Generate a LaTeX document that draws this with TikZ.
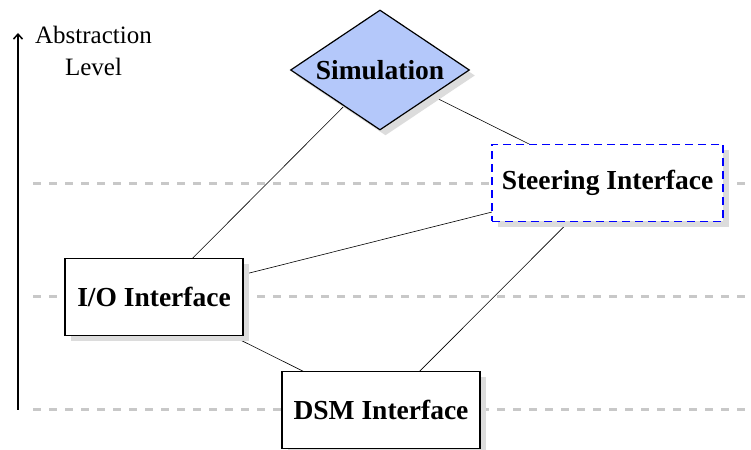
\documentclass[tikz,border=0pt]{standalone}
\usepackage{fontspec}
\setmainfont{Liberation Serif}
\usetikzlibrary{shapes.geometric,shadows,backgrounds,arrows.meta}
\definecolor{simblue}{RGB}{180,200,250}
\definecolor{levelgray}{RGB}{200,200,200}
\definecolor{shadowgray}{RGB}{220,220,220}
\tikzset{
  x=1pt,y=1pt,
  myshadow/.style={drop shadow={shadow xshift=5.5pt,shadow yshift=-5.5pt,fill=shadowgray,opacity=1}},
  boxnode/.style={draw,line width=1.2pt,fill=white,minimum height=77pt,inner sep=0pt,
    font=\fontsize{27.5}{30}\selectfont\bfseries,myshadow},
  levelline/.style={levelgray,line width=3pt,dash pattern=on 8pt off 8pt},
  conn/.style={black,line width=0.6pt},
}
\begin{document}
\begin{tikzpicture}
\useasboundingbox (0,0) rectangle (751,449);
% nodes
\node[diamond,draw,line width=1.2pt,fill=simblue,minimum width=179pt,minimum height=120pt,
      inner sep=0pt,myshadow,
      label={[font=\fontsize{27.5}{30}\selectfont\bfseries]center:Simulation}] (sim) at (380,379) {};
\node[boxnode,draw=blue,line width=1.5pt,dash pattern=on 8pt off 5pt,minimum width=231pt] (steer) at (607.5,266) {Steering Interface};
\node[boxnode,minimum width=178pt] (io) at (154,152) {I/O Interface};
\node[boxnode,minimum width=198pt] (dsm) at (381,39) {DSM Interface};
\node[align=center,font=\fontsize{25}{32}\selectfont,inner sep=0pt] (lbl) at (93.5,398) {Abstraction\\Level};
% level lines and arrow
\coordinate (l1s) at (33,265); \coordinate (l1e) at (751,265);
\coordinate (l2s) at (33,152); \coordinate (l2e) at (751,152);
\coordinate (l3s) at (33,39);  \coordinate (l3e) at (751,39);
\coordinate (abot) at (18,39); \coordinate (atop) at (18,416);
\begin{scope}[on background layer]
  \draw[levelline] (l1s) -- (l1e);
  \draw[levelline] (l2s) -- (l2e);
  \draw[levelline] (l3s) -- (l3e);
  \draw[conn] (sim.center) -- (io.center);
  \draw[conn] (sim.center) -- (steer.center);
  \draw[conn] (io.center) -- (steer.center);
  \draw[conn] (io.center) -- (dsm.center);
  \draw[conn] (steer.center) -- (dsm.center);
\end{scope}
\draw[line width=1.5pt,-{Straight Barb[length=5pt,width=9pt,line width=1.5pt]}] (abot) -- (atop);
\end{tikzpicture}
\end{document}
